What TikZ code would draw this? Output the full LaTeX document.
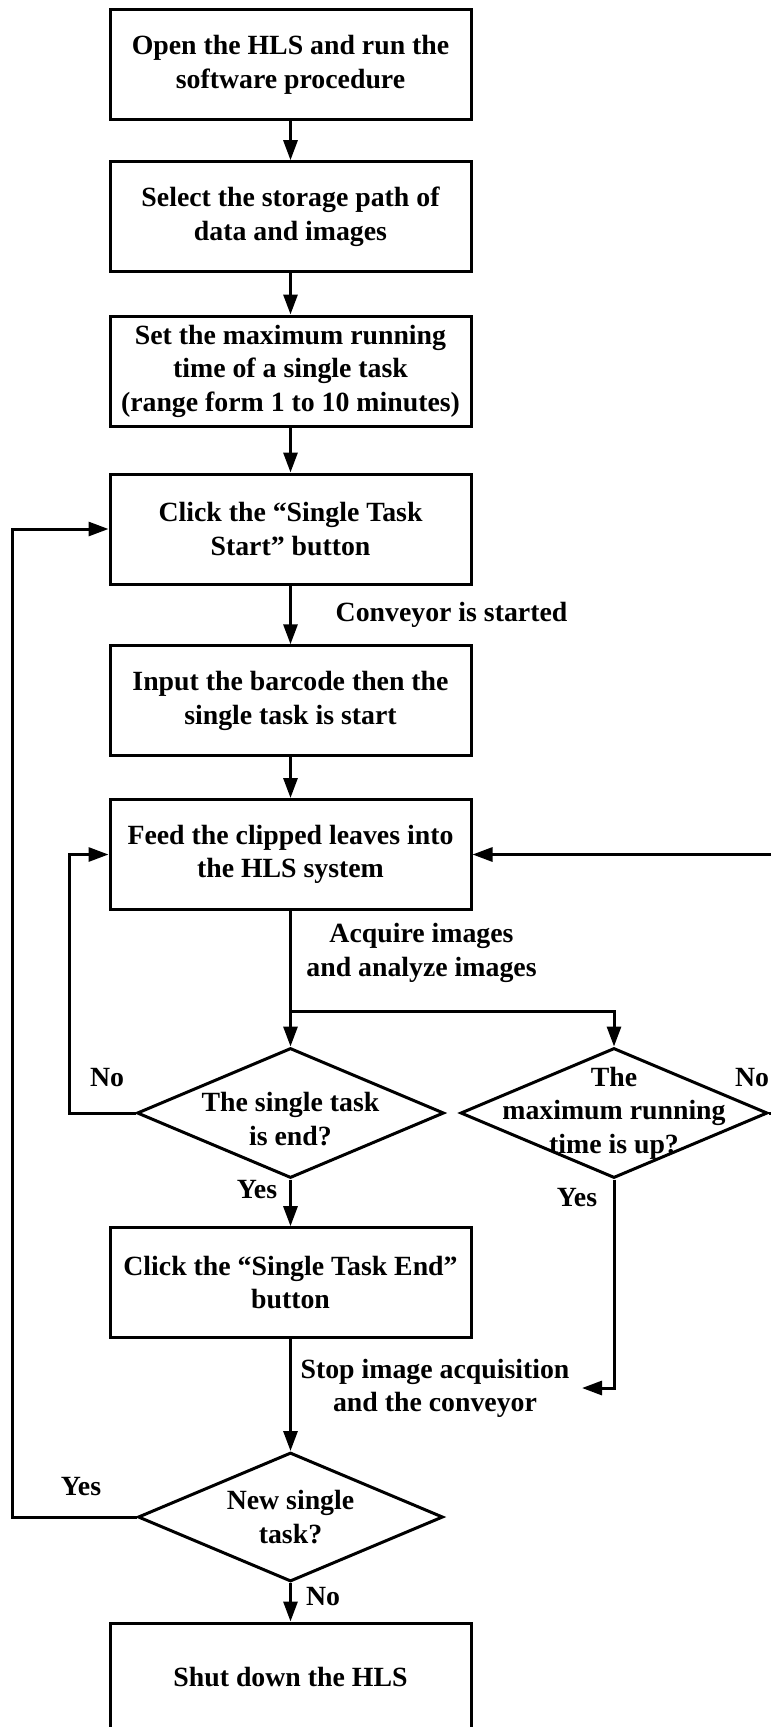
\documentclass[tikz,border=0pt]{standalone}
\usepackage{fontspec}
\setmainfont{Liberation Serif}
\usetikzlibrary{shapes.geometric,arrows.meta}

\begin{document}
\begin{tikzpicture}[x=1pt, y=-1pt,
  every node/.style={font=\bfseries\fontsize{27.8}{33.5}\selectfont},
  stepbox/.style={draw, line width=3pt, minimum width=361pt, minimum height=110pt, align=center, inner sep=2pt},
  decision/.style={draw, shape=diamond, line width=3pt, minimum width=307pt, minimum height=130pt, inner sep=0pt},
  dtext/.style={align=center, inner sep=0pt},
  note/.style={align=center, inner sep=0pt},
  flow/.style={line width=3pt, -{Triangle[length=20pt,width=14pt]}},
  link/.style={line width=3pt}
]
\useasboundingbox (0,0) rectangle (771,1727);
\clip (0,0) rectangle (771,1727);

% process steps
\node[stepbox] (b1) at (290.5,64.7) {Open the HLS and run the\\software procedure};
\node[stepbox] (b2) at (290.5,216.7) {Select the storage path of\\data and images};
\node[stepbox] (b3) at (290.5,371) {Set the maximum running\\time of a single task\\(range form 1 to 10 minutes)};
\node[stepbox] (b4) at (290.5,529) {Click the “Single Task\\Start” button};
\node[stepbox] (b5) at (290.5,700.8) {Input the barcode then the\\single task is start};
\node[stepbox] (b6) at (290.5,854.5) {Feed the clipped leaves into\\the HLS system};

% decisions
\node[decision, label={[dtext,yshift=-6pt]center:{The single task\\is end?}}] (d1) at (290.5,1113) {};
\node[decision, label={[dtext]center:{The\\maximum running\\time is up?}}] (d2) at (614,1113) {};

\node[stepbox] (b7) at (290.5,1282.7) {Click the “Single Task End”\\button};
\node[decision, minimum width=305pt, minimum height=129pt, label={[dtext]center:{New single\\task?}}] (d3) at (290.5,1517) {};
\node[stepbox, minimum height=108pt] (b8) at (290.5,1677) {Shut down the HLS};

% connector labels
\node[note] (lconv) at (451.5,615) {Conveyor is started};
\node[note] (lacq) at (421.5,953) {Acquire images\\and analyze images};
\node[note] (lstop) at (435,1388.5) {Stop image acquisition\\and the conveyor};
\node[note] (no1) at (107,1078) {No};
\node[note] (yes1) at (257,1190) {Yes};
\node[note] (yes2) at (577,1198) {Yes};
\node[note] (no2) at (752,1078) {No};
\node[note] (yes3) at (81,1487) {Yes};
\node[note] (no3) at (323,1597) {No};

% routing points
\coordinate (split) at (290.5,1011);
\coordinate (lx1) at (69,0);
\coordinate (lx2) at (12.3,0);
\coordinate (rx) at (776,0);
\coordinate (stopend) at (582,1388);

% connectors
\draw[flow] (b1.south) -- (b2.north);
\draw[flow] (b2.south) -- (b3.north);
\draw[flow] (b3.south) -- (b4.north);
\draw[flow] (b4.south) -- (b5.north);
\draw[flow] (b5.south) -- (b6.north);
\draw[link] (b6.south) -- (split);
\draw[flow] (split) -- (d1.north);
\draw[flow] (split) -| (d2.north);
\draw[flow] (d1.west) -- (d1.west -| lx1) |- (b6.west);
\draw[flow] (d2.east) -- (d2.east -| rx) |- (b6.east);
\draw[flow] (d1.south) -- (b7.north);
\draw[flow] (d2.south) |- (stopend);
\draw[flow] (b7.south) -- (d3.north);
\draw[flow] (d3.west) -- (d3.west -| lx2) |- (b4.west);
\draw[flow] (d3.south) -- (b8.north);
\end{tikzpicture}
\end{document}
